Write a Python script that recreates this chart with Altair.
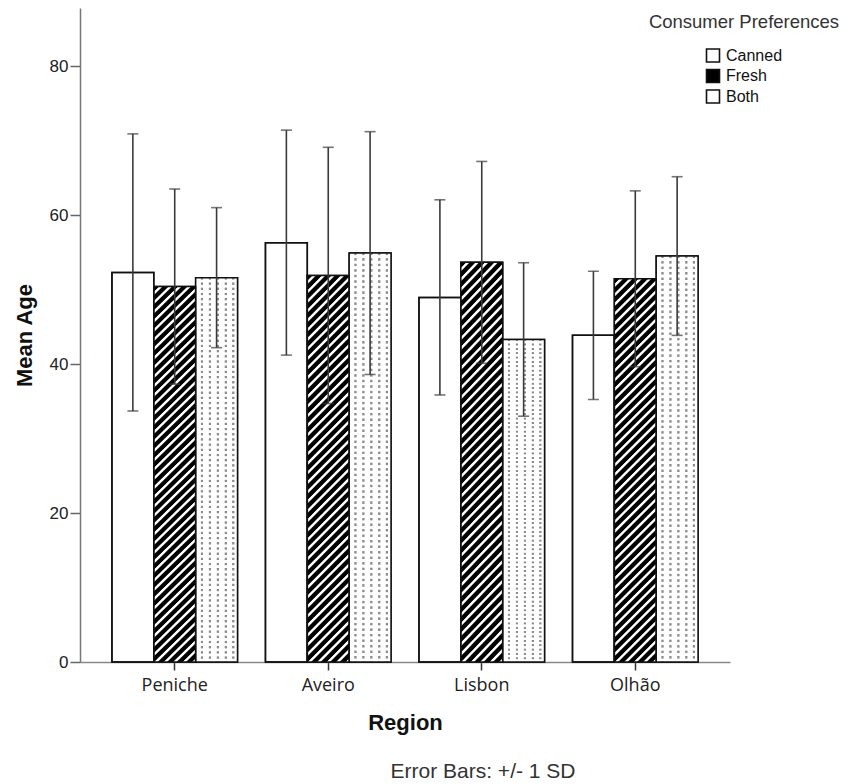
import altair as alt
import pandas as pd

# ---------------- data ----------------
regions = ["Peniche", "Aveiro", "Lisbon", "Olhão"]
prefs = ["Canned", "Fresh", "Both"]
mean_canned = [52.3, 56.3, 48.95, 43.85]
mean_fresh = [50.4, 51.9, 53.65, 51.45]
mean_both = [51.6, 54.9, 43.3, 54.5]
sd_canned = [18.6, 15.1, 13.1, 8.6]
sd_fresh = [13.1, 17.2, 13.55, 11.8]
sd_both = [9.4, 16.3, 10.3, 10.65]
y_ticks = [0, 20, 40, 60, 80]

rows = []
for p, ms, ss in zip(prefs, [mean_canned, mean_fresh, mean_both],
                     [sd_canned, sd_fresh, sd_both]):
    for r, m, s in zip(regions, ms, ss):
        rows.append({"Region": r, "Pref": p, "Mean": m, "Lo": m - s, "Hi": m + s})
df = pd.DataFrame(rows)


# ---------------- pattern fills (gradients) ----------------
def hatch_gradient(w=42.0, h=385.0, period=9.5):
    L = w + h
    c = L / (w * w + h * h)
    n = L / period
    stops = []
    for k in range(int(n) + 2):
        for frac, col in [(0.0, "#000000"), (0.5, "#000000"),
                          (0.62, "#ffffff"), (0.85, "#ffffff")]:
            off = (k + frac) / n
            if off <= 1.0:
                stops.append({"offset": round(off, 5), "color": col})
    return {"gradient": "linear", "x1": 0, "y1": 0,
            "x2": round(c * w, 5), "y2": round(c * h, 5), "stops": stops}


def column_gradient(centers=(0.15, 0.34, 0.53, 0.72, 0.9), half=0.024):
    stops = [{"offset": 0, "color": "#ffffff"}]
    for cc in centers:
        stops += [
            {"offset": round(cc - half - 0.012, 4), "color": "#ffffff"},
            {"offset": round(cc - half + 0.006, 4), "color": "#8c8c8c"},
            {"offset": round(cc + half - 0.006, 4), "color": "#8c8c8c"},
            {"offset": round(cc + half + 0.012, 4), "color": "#ffffff"},
        ]
    stops.append({"offset": 1, "color": "#ffffff"})
    return {"gradient": "linear", "x1": 0, "y1": 0, "x2": 1, "y2": 0, "stops": stops}


def dot_cutter_gradient(h=370.0, period=5.0):
    n = h / period
    clear = "rgba(255,255,255,0)"
    stops = []
    for k in range(int(n) + 2):
        for frac, col in [(0.0, clear), (0.3, clear), (0.45, "#ffffff"), (0.85, "#ffffff")]:
            off = (k + frac) / n
            if off <= 1.0:
                stops.append({"offset": round(off, 5), "color": col})
    return {"gradient": "linear", "x1": 0, "y1": 0, "x2": 0, "y2": 1, "stops": stops}


# ---------------- encodings ----------------
x_enc = alt.X(
    "Region:N",
    scale=alt.Scale(domain=regions, paddingInner=0.182, paddingOuter=0.208),
    axis=alt.Axis(
        title="Region", labelAngle=0, labelFont="Open Sans", labelFontSize=18,
        labelColor="#222222", labelPadding=6, tickSize=8, tickColor="#333333",
        tickWidth=1.5, domainColor="#888888", domainWidth=1.5,
        titleFont="Liberation Sans", titleFontSize=22, titleFontWeight="bold",
        titleColor="#111111", titlePadding=18, grid=False,
    ),
)
xo_enc = alt.XOffset("Pref:N", scale=alt.Scale(domain=prefs, paddingInner=0, paddingOuter=0))

y_axis = alt.Axis(
    title="Mean Age", values=y_ticks, labelFont="Liberation Sans", labelFontSize=17,
    labelColor="#222222", labelPadding=2, tickSize=10, tickColor="#666666",
    tickWidth=1.5, domainColor="#777777", domainWidth=1.5,
    titleFont="Liberation Sans", titleFontSize=22, titleFontWeight="bold",
    titleColor="#111111", titlePadding=13, grid=False,
)
y_scale = alt.Scale(domain=[0, 87.8], nice=False, zero=True)


def y_of(field):
    return alt.Y(f"{field}:Q", scale=y_scale, axis=y_axis, title="Mean Age")


base = alt.Chart(df)

bars = base.mark_bar(stroke="#111111", strokeWidth=1.5).encode(
    x=x_enc, xOffset=xo_enc, y=y_of("Mean"),
    fill=alt.Fill(
        "Pref:N",
        scale=alt.Scale(domain=prefs, range=["#ffffff", "#000000", "#ffffff"]),
        legend=alt.Legend(
            title="Consumer Preferences", orient="none", legendX=569, legendY=5,
            titleAnchor="middle", titleFont="Liberation Sans", titleFontSize=18.5,
            titleFontWeight="normal", titleColor="#333333", titlePadding=16,
            titleLimit=400,
            labelFont="Liberation Sans", labelFontSize=16, labelColor="#111111",
            labelOffset=5, symbolType="square", symbolSize=169,
            symbolStrokeColor="#111111", symbolStrokeWidth=1.6, rowPadding=0.5,
            padding=0,
        ),
    ),
)

fresh = base.transform_filter(alt.datum.Pref == "Fresh").mark_bar(
    fill=hatch_gradient(), strokeWidth=0
).encode(x=x_enc, xOffset=xo_enc, y=y_of("Mean"))

both_cols = base.transform_filter(alt.datum.Pref == "Both").mark_bar(
    fill=column_gradient(), strokeWidth=0
).encode(x=x_enc, xOffset=xo_enc, y=y_of("Mean"))

both_dots = base.transform_filter(alt.datum.Pref == "Both").mark_bar(
    fill=dot_cutter_gradient(), strokeWidth=0
).encode(x=x_enc, xOffset=xo_enc, y=y_of("Mean"))

outlines = base.mark_bar(fillOpacity=0, stroke="#111111", strokeWidth=1.5).encode(
    x=x_enc, xOffset=xo_enc, y=y_of("Mean")
)

err_rule = base.mark_rule(color="#3a3a3a", strokeWidth=1.6).encode(
    x=x_enc, xOffset=xo_enc, y=y_of("Lo"), y2="Hi:Q"
)
cap_hi = base.mark_tick(orient="horizontal", size=11, thickness=1.6, color="#3a3a3a").encode(
    x=x_enc, xOffset=xo_enc, y=y_of("Hi")
)
cap_lo = base.mark_tick(orient="horizontal", size=11, thickness=1.6, color="#3a3a3a").encode(
    x=x_enc, xOffset=xo_enc, y=y_of("Lo")
)

chart = alt.layer(
    bars, fresh, both_cols, both_dots, outlines, err_rule, cap_hi, cap_lo
).properties(
    width=650,
    height=654,
    padding={"left": 72, "top": 0, "right": 112, "bottom": 124},
    autosize=alt.AutoSizeParams(type="none"),
    title=alt.Title(
        "Error Bars: +/- 1 SD", orient="bottom", anchor="middle", dx=78, offset=28,
        font="Liberation Sans", fontSize=21, fontWeight="normal", color="#333333",
    ),
).configure_view(strokeWidth=0)

chart.save("out.html", embed_options={"renderer": "svg", "actions": False})
